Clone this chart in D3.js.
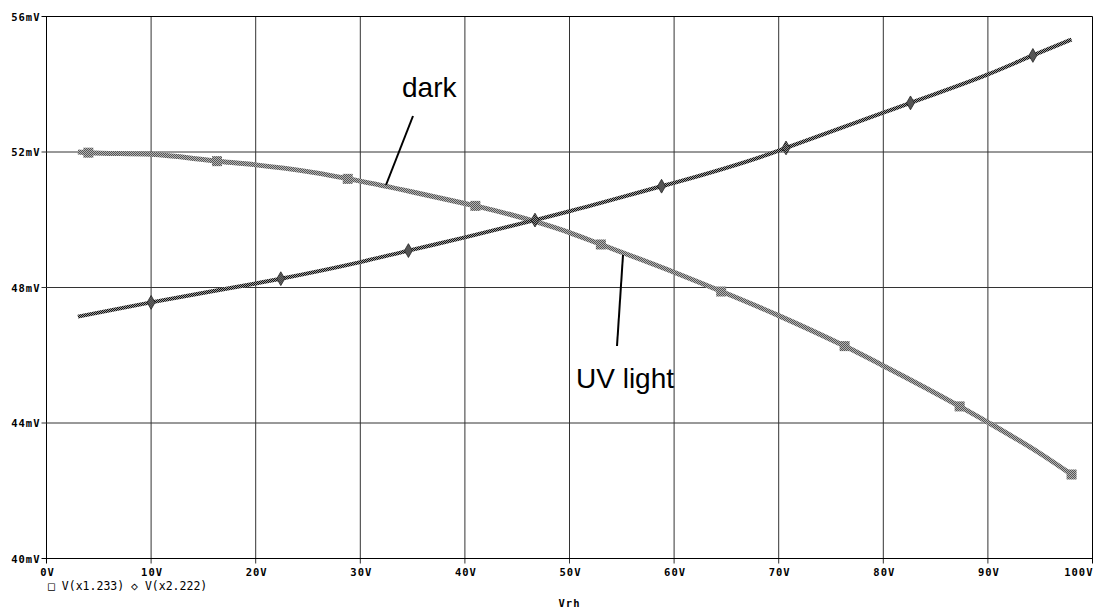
<!DOCTYPE html>
<html>
<head>
<meta charset="utf-8">
<script src="https://cdn.jsdelivr.net/npm/d3@7"></script>
<style>
  body { margin: 0; background: #fff; }
</style>
</head>
<body>
<div id="panel"></div>
<script>
// sweep values (Vrh in V, output in mV)
const darkV  = [3, 4, 10, 16.3, 20, 25, 30, 35, 40, 41, 47, 50, 53, 60, 62.5, 70, 76.3, 80, 87.3, 90, 95, 98];
const darkMV = [52.00, 51.98, 51.93, 51.73, 51.62, 51.42, 51.14, 50.82, 50.48, 50.41, 49.92, 49.62, 49.27, 48.45, 48.14, 47.17, 46.27, 45.69, 44.49, 44.02, 43.10, 42.48];
const darkMarks = [4, 16.3, 28.8, 41, 53, 64.5, 76.3, 87.3, 98];

const uvV  = [3, 10, 20, 22.4, 30, 34.6, 40, 46.7, 50, 58.8, 60, 70, 70.7, 80, 82.6, 90, 94.3, 98];
const uvMV = [47.14, 47.56, 48.12, 48.26, 48.75, 49.09, 49.48, 49.99, 50.25, 50.99, 51.09, 52.04, 52.12, 53.16, 53.45, 54.29, 54.85, 55.32];
const uvMarks = [10, 22.4, 34.6, 46.7, 58.8, 70.7, 82.6, 94.3];

const xTicks = [0, 10, 20, 30, 40, 50, 60, 70, 80, 90, 100];
const yTicks = [40, 44, 48, 52, 56];
const legendItems = ['\u25A1 V(x1.233)', '\u25C7 V(x2.222)'];
const xTitle = 'Vrh';

const W = 1096, H = 610;
const tickFont = '"DejaVu Sans Mono", monospace';

const svg = d3.select('#panel')
  .append('svg')
  .attr('width', W)
  .attr('height', H)
  .attr('viewBox', '0 0 ' + W + ' ' + H);

// checkered stroke like the old probe plot
const defs = svg.append('defs');
const checker = (id, a, b) => {
  const p = defs.append('pattern')
    .attr('id', id)
    .attr('width', 2).attr('height', 2)
    .attr('patternUnits', 'userSpaceOnUse');
  p.append('rect').attr('width', 2).attr('height', 2).attr('fill', b);
  p.append('rect').attr('width', 1).attr('height', 1).attr('fill', a);
  p.append('rect').attr('x', 1).attr('y', 1).attr('width', 1).attr('height', 1).attr('fill', a);
};
checker('chkDark', '#555', '#b4b4b4');
checker('chkUv', '#111', '#9a9a9a');

const x = d3.scaleLinear().domain([0, 100]).range([46.5, 1092.5]);
const y = d3.scaleLinear().domain([40, 56]).range([558.5, 16.5]);

// grid
svg.append('g')
  .selectAll('line')
  .data(xTicks)
  .join('line')
  .attr('x1', d => x(d)).attr('x2', d => x(d))
  .attr('y1', y(56)).attr('y2', y(40) + 5)
  .attr('stroke', d => (d === 0 || d === 100) ? '#000' : '#333')
  .attr('stroke-width', 1);

svg.append('g')
  .selectAll('line')
  .data(yTicks)
  .join('line')
  .attr('x1', x(0) - 5).attr('x2', x(100))
  .attr('y1', d => y(d)).attr('y2', d => y(d))
  .attr('stroke', d => (d === 40 || d === 56) ? '#000' : '#333')
  .attr('stroke-width', 1);

// tick labels
svg.append('g')
  .selectAll('text')
  .data(yTicks)
  .join('text')
  .attr('x', x(0) - 6)
  .attr('y', d => y(d) + 4)
  .attr('text-anchor', 'end')
  .attr('font-family', tickFont)
  .attr('font-weight', 'bold')
  .attr('font-size', 10.5)
  .attr('letter-spacing', 1)
  .text(d => d + 'mV');

svg.append('g')
  .selectAll('text')
  .data(xTicks)
  .join('text')
  .attr('x', d => d === 100 ? x(d) + 1 : x(d) + 1)
  .attr('y', 576)
  .attr('text-anchor', d => d === 100 ? 'end' : 'middle')
  .attr('font-family', tickFont)
  .attr('font-weight', 'bold')
  .attr('font-size', 10.5)
  .attr('letter-spacing', 1)
  .text(d => d + 'V');

svg.append('text')
  .attr('x', 48)
  .attr('y', 590)
  .attr('font-family', tickFont)
  .attr('font-size', 11.5)
  .attr('xml:space', 'preserve')
  .text(legendItems.join(' '));

svg.append('text')
  .attr('x', (x(0) + x(100)) / 2)
  .attr('y', 607)
  .attr('text-anchor', 'middle')
  .attr('font-family', tickFont)
  .attr('font-weight', 'bold')
  .attr('font-size', 10.5)
  .attr('letter-spacing', 1)
  .text(xTitle);

// curves
const line = d3.line()
  .x(d => x(d[0]))
  .y(d => y(d[1]))
  .curve(d3.curveMonotoneX);

const darkPts = darkV.map((v, i) => [v, darkMV[i]]);
const uvPts = uvV.map((v, i) => [v, uvMV[i]]);
const interp = (vs, ms, v) => {
  const i = Math.max(1, d3.bisectLeft(vs, v));
  const t = (v - vs[i - 1]) / (vs[i] - vs[i - 1]);
  return ms[i - 1] + t * (ms[i] - ms[i - 1]);
};

svg.append('path')
  .datum(darkPts)
  .attr('d', line)
  .attr('fill', 'none')
  .attr('stroke', 'url(#chkDark)')
  .attr('stroke-width', 5);

svg.append('path')
  .datum(uvPts)
  .attr('d', line)
  .attr('fill', 'none')
  .attr('stroke', 'url(#chkUv)')
  .attr('stroke-width', 4);

svg.append('g')
  .selectAll('rect')
  .data(darkMarks)
  .join('rect')
  .attr('x', d => x(d) - 5)
  .attr('y', d => y(interp(darkV, darkMV, d)) - 5)
  .attr('width', 10).attr('height', 10)
  .attr('fill', 'url(#chkDark)');

const diamond = d3.symbol().type(d3.symbolDiamond).size(55);
svg.append('g')
  .selectAll('path')
  .data(uvMarks)
  .join('path')
  .attr('transform', d => 'translate(' + x(d) + ',' + y(interp(uvV, uvMV, d)) + ')')
  .attr('d', diamond)
  .attr('fill', 'url(#chkUv)')
  .attr('stroke', '#222')
  .attr('stroke-width', 0.8);

// annotations
const annotate = (label, tx, ty, x1, y1, x2, y2) => {
  svg.append('line')
    .attr('x1', x1).attr('y1', y1)
    .attr('x2', x2).attr('y2', y2)
    .attr('stroke', '#000')
    .attr('stroke-width', 2);
  svg.append('text')
    .attr('x', tx).attr('y', ty)
    .attr('font-family', '"Liberation Sans", Arial, sans-serif')
    .attr('font-size', 28)
    .text(label);
};
annotate('dark', 402, 97, 413, 116, 386, 185);
annotate('UV light', 576, 388, 623, 255, 617, 346);
</script>
</body>
</html>
